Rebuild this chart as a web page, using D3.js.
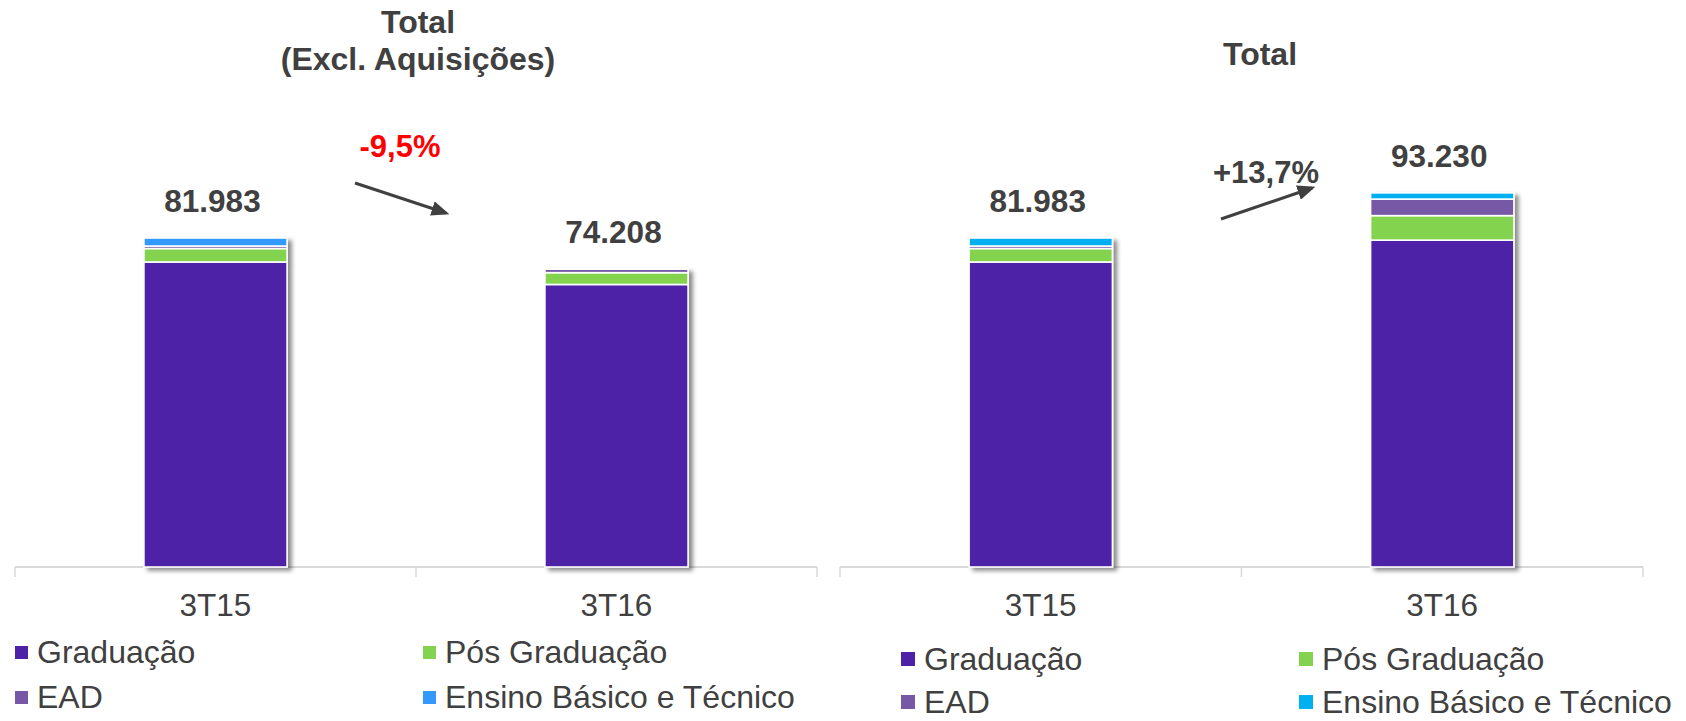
<!DOCTYPE html>
<html><head><meta charset="utf-8">
<script src="https://cdn.jsdelivr.net/npm/d3@7"></script>
<style>
html,body{margin:0;padding:0;background:#fff;}
svg{display:block;font-family:"Liberation Sans",Arial,sans-serif;}
</style></head>
<body><svg id="c" width="1686" height="721"></svg>
<script>
const categories = ["3T15", "3T16"];
const seriesNames = ["Graduação", "Pós Graduação", "EAD", "Ensino Básico e Técnico"];
// Left: Total (Excl. Aquisições)
const leftGraduacao = [76000, 70400];
const leftPos = [3360, 2950];
const leftEAD = [620, 858];
const leftBasico = [2003, 0];
const leftTotals = ["81.983", "74.208"];
const leftChange = "-9,5%";
// Right: Total
const rightGraduacao = [76000, 81450];
const rightPos = [3360, 6110];
const rightEAD = [620, 4115];
const rightBasico = [2003, 1555];
const rightTotals = ["81.983", "93.230"];
const rightChange = "+13,7%";

const svg = d3.select("#c");
const defs = svg.append("defs");
const f = defs.append("filter").attr("id","sh").attr("x","-10%").attr("y","-10%").attr("width","130%").attr("height","130%");
f.append("feDropShadow").attr("dx",4).attr("dy",3).attr("stdDeviation",2.2).attr("flood-color","#000").attr("flood-opacity",0.45);
const mk = defs.append("marker").attr("id","arr").attr("viewBox","0 0 10 10").attr("refX",8).attr("refY",5)
  .attr("markerWidth",6).attr("markerHeight",5).attr("markerUnits","strokeWidth").attr("orient","auto")
  .attr("preserveAspectRatio","none");
mk.append("path").attr("d","M0,0 L10,5 L0,10 z").attr("fill","#404040");

const y = d3.scaleLinear().domain([0, 100000]).range([567, 165.7]);
const textColor = "#404040";

function chart(opts) {
  const x = d3.scaleBand().domain(categories).range(opts.range).padding(0);
  const bw = x.bandwidth() * 0.357;
  const colors = ["#4E22A7", "#83D350", "#7658A6", opts.blue];
  const rows = categories.map((c, i) => ({cat: c,
    "Graduação": opts.g[i], "Pós Graduação": opts.p[i], "EAD": opts.e[i], "Ensino Básico e Técnico": opts.b[i]}));
  const stack = d3.stack().keys(seriesNames)(rows);
  const g = svg.append("g");
  // axis line
  g.append("line").attr("x1", opts.range[0]).attr("x2", opts.range[1]).attr("y1", y(0)).attr("y2", y(0))
    .attr("stroke", "#D9D9D9").attr("stroke-width", 2);
  const tickXs = [opts.range[0]].concat(categories.map(c => x(c) + x.bandwidth()));
  g.selectAll(".tk").data(tickXs).join("line").attr("x1", d => d).attr("x2", d => d)
    .attr("y1", y(0)).attr("y2", y(0) + 10).attr("stroke", "#D9D9D9").attr("stroke-width", 1.5);
  // bars
  const bars = g.append("g").attr("filter", "url(#sh)");
  stack.forEach((s, si) => {
    bars.selectAll(null).data(s.filter(d => d[1] - d[0] > 0)).join("rect")
      .attr("x", d => x(d.data.cat) + (x.bandwidth() - bw) / 2)
      .attr("width", bw)
      .attr("y", d => y(d[1]))
      .attr("height", d => y(d[0]) - y(d[1]))
      .attr("fill", colors[si]).attr("stroke", "#fff").attr("stroke-width", 1.6);
  });
  // axis labels
  g.selectAll(".al").data(categories).join("text")
    .attr("x", d => x(d) + x.bandwidth() / 2).attr("y", 616)
    .attr("text-anchor", "middle").attr("font-size", 31.5).attr("fill", textColor).text(d => d);
  // totals
  g.selectAll(".tl").data(categories).join("text")
    .attr("x", d => x(d) + x.bandwidth() / 2 - 3)
    .attr("y", (d, i) => y(opts.g[i] + opts.p[i] + opts.e[i] + opts.b[i]) - 26)
    .attr("text-anchor", "middle").attr("font-size", 31.5).attr("font-weight", "bold").attr("fill", textColor)
    .text((d, i) => opts.totals[i]);
  // titles
  opts.titles.forEach((t, i) => {
    g.append("text").attr("x", opts.titleX).attr("y", opts.titleY + i * 36.5)
      .attr("text-anchor", "middle").attr("font-size", 32).attr("font-weight", "bold").attr("fill", textColor).text(t);
  });
  // change annotation
  g.append("text").attr("x", opts.chg.x).attr("y", opts.chg.y).attr("text-anchor", "middle")
    .attr("font-size", 31).attr("font-weight", "bold").attr("fill", opts.chg.color).text(opts.chg.text);
  g.append("line").attr("x1", opts.arrow[0]).attr("y1", opts.arrow[1]).attr("x2", opts.arrow[2]).attr("y2", opts.arrow[3])
    .attr("stroke", "#404040").attr("stroke-width", 3).attr("marker-end", "url(#arr)");
  // legend
  const L = opts.legend;
  seriesNames.forEach((n, i) => {
    const cx = L.cols[i % 2], by = L.rows[Math.floor(i / 2)];
    g.append("rect").attr("x", cx).attr("y", by - L.sq - 4).attr("width", L.sq).attr("height", L.sq).attr("fill", colors[i]);
    g.append("text").attr("x", cx + L.sq + 9).attr("y", by).attr("font-size", L.fs).attr("fill", textColor).text(n);
  });
}

chart({range: [15, 817], g: leftGraduacao, p: leftPos, e: leftEAD, b: leftBasico, totals: leftTotals,
  blue: "#3399FF", titles: ["Total", "(Excl. Aquisições)"], titleX: 418, titleY: 33,
  chg: {text: leftChange, x: 400, y: 157, color: "#FF0000"}, arrow: [355, 183, 446, 213],
  legend: {cols: [15, 423], rows: [663, 708], sq: 13, fs: 32}});
chart({range: [840, 1643], g: rightGraduacao, p: rightPos, e: rightEAD, b: rightBasico, totals: rightTotals,
  blue: "#00B0F0", titles: ["Total"], titleX: 1260, titleY: 65,
  chg: {text: rightChange, x: 1266, y: 183, color: "#404040"}, arrow: [1221, 219, 1312, 188],
  legend: {cols: [901, 1299], rows: [670, 713], sq: 14, fs: 32}});
</script></body></html>
